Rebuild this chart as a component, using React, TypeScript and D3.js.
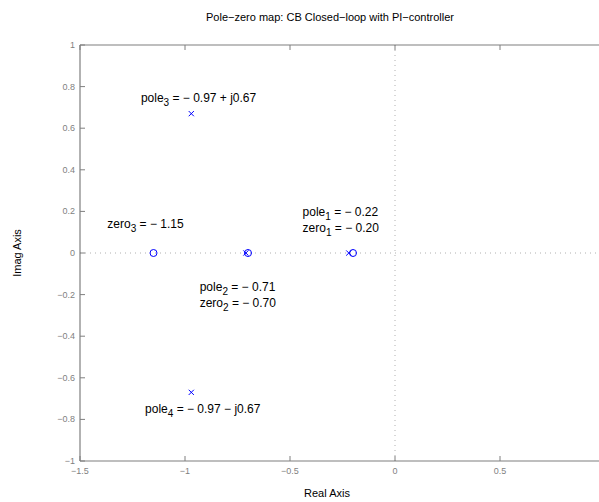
import React from "react";
import * as d3 from "d3";

const poleRe = [-0.22, -0.71, -0.97, -0.97];
const poleIm = [0, 0, 0.67, -0.67];
const zeroRe = [-0.2, -0.7, -1.15];
const zeroIm = [0, 0, 0];
const xTicks = [-1.5, -1, -0.5, 0, 0.5];
const yTicks = [-1, -0.8, -0.6, -0.4, -0.2, 0, 0.2, 0.4, 0.6, 0.8, 1];

// annotation labels
const labelNames = ["pole", "zero", "pole", "zero", "zero", "pole", "pole"];
const labelIdx = ["1", "1", "2", "2", "3", "3", "4"];
const labelVals = ["= − 0.22", "= − 0.20", "= − 0.71", "= − 0.70", "= − 1.15", "= − 0.97 + j0.67", "= − 0.97 − j0.67"];
const labelX = [-0.44, -0.44, -0.93, -0.93, -1.37, -1.21, -1.19];
const labelY = [0.178, 0.1, -0.183, -0.26, 0.12, 0.727, -0.77];

const W = 599;
const H = 502;
const left = 80;
const top = 45;
const bottom = 461;
const right = 605;

const fmt = (v: number) => {
  const s = String(Math.abs(v));
  return v < 0 ? "\u2212" + s : s;
};

export default function App() {
  const x = d3.scaleLinear().domain([-1.5, 1.0]).range([left, right]);
  const y = d3.scaleLinear().domain([-1, 1]).range([bottom, top]);
  const axisColor = "#7f7f7f";
  const font = "'Liberation Sans', Arial, Helvetica, sans-serif";
  const blue = "#0000ff";
  const xs = 2.6;
  return (
    <svg
      width={W}
      height={H}
      style={{ position: "absolute", left: 0, top: 0, background: "#fff" }}
      fontFamily={font}
    >
      <rect x={0} y={0} width={W} height={H} fill="#fff" />
      <text x={330} y={21} textAnchor="middle" fontSize={11} fill="#000">
        Pole−zero map: CB Closed−loop with PI−controller
      </text>
      <line x1={left} x2={right} y1={y(0)} y2={y(0)} stroke="#b0b0b0" strokeWidth={1} strokeDasharray="1,4" />
      <line x1={x(0)} x2={x(0)} y1={top} y2={bottom} stroke="#b0b0b0" strokeWidth={1} strokeDasharray="1,4" />
      <line x1={left} x2={right} y1={top} y2={top} stroke={axisColor} strokeWidth={1.2} />
      <line x1={left} x2={right} y1={bottom} y2={bottom} stroke={axisColor} strokeWidth={1.2} />
      <line x1={left} x2={left} y1={top} y2={bottom} stroke={axisColor} strokeWidth={1.2} />
      {xTicks.map((t) => (
        <g key={"xt" + t}>
          <line x1={x(t)} x2={x(t)} y1={bottom} y2={bottom - 5} stroke={axisColor} />
          <line x1={x(t)} x2={x(t)} y1={top} y2={top + 5} stroke={axisColor} />
          <text x={x(t)} y={bottom + 13} textAnchor="middle" fontSize={9} fill={axisColor}>
            {fmt(t)}
          </text>
        </g>
      ))}
      {yTicks.map((t) => (
        <g key={"yt" + t}>
          <line x1={left} x2={left + 5} y1={y(t)} y2={y(t)} stroke={axisColor} />
          <text x={left - 5} y={y(t) + 3} textAnchor="end" fontSize={9} fill={axisColor}>
            {fmt(t)}
          </text>
        </g>
      ))}
      <text x={327} y={497} textAnchor="middle" fontSize={11} fill="#000">
        Real Axis
      </text>
      <text
        transform={`translate(21,${y(0)}) rotate(-90)`}
        textAnchor="middle"
        fontSize={11}
        fill="#000"
      >
        Imag Axis
      </text>
      {zeroRe.map((re, i) => (
        <circle key={"z" + i} cx={x(re)} cy={y(zeroIm[i])} r={3.5} fill="none" stroke={blue} strokeWidth={1} />
      ))}
      {poleRe.map((re, i) => (
        <g key={"p" + i} stroke={blue} strokeWidth={1}>
          <line x1={x(re) - xs} x2={x(re) + xs} y1={y(poleIm[i]) - xs} y2={y(poleIm[i]) + xs} />
          <line x1={x(re) - xs} x2={x(re) + xs} y1={y(poleIm[i]) + xs} y2={y(poleIm[i]) - xs} />
        </g>
      ))}
      {labelNames.map((n, i) => (
        <text key={"l" + i} x={x(labelX[i])} y={y(labelY[i])} fontSize={12} fill="#000">
          {n}
          <tspan fontSize={10} dy={4}>
            {labelIdx[i]}
          </tspan>
          <tspan dy={-4}>{" " + labelVals[i]}</tspan>
        </text>
      ))}
    </svg>
  );
}
